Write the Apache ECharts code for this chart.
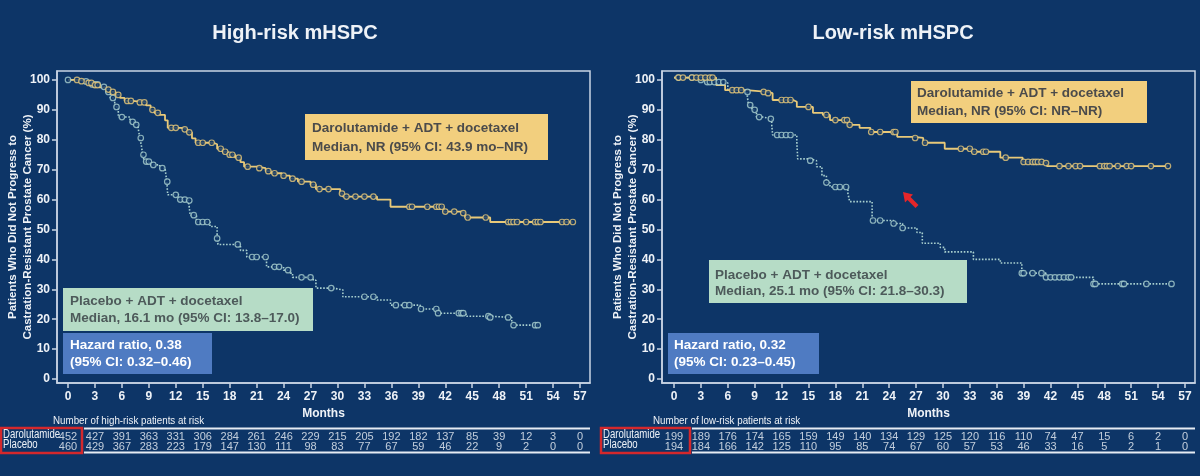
<!DOCTYPE html>
<html>
<head>
<meta charset="utf-8">
<script src="https://cdn.jsdelivr.net/npm/echarts@6/dist/echarts.min.js"></script>
<style>
  html, body { margin: 0; padding: 0; background: #0d3567; }
  #chart { width: 1200px; height: 476px; }
</style>
</head>
<body>
<div id="chart"></div>
<script>
// ---- data ----
var monthTicks = [0, 3, 6, 9, 12, 15, 18, 21, 24, 27, 30, 33, 36, 39, 42, 45, 48, 51, 54, 57];
var pctTicks = [0, 10, 20, 30, 40, 50, 60, 70, 80, 90, 100];

// high-risk, KM steps [month, % after the drop]
var hrDaroSteps = [[0,100],[1.2,99.6],[2,99],[2.8,98.3],[3.5,97.5],[4.2,96.8],[4.7,96],[5.3,95],[5.8,94],[6.3,93],
  [7.2,92.5],[8.7,91.5],[9.2,90],[9.6,89],[10.2,88.3],[10.8,86.5],[11.1,84],[12.6,83.5],[13.3,82.5],[13.8,80.5],
  [14.2,79],[16.2,78.5],[16.6,77],[17.2,76],[17.8,75],[18.6,74],[19.2,72.5],[19.6,71],[21,70.5],[22,69.5],
  [22.6,68.8],[23.8,68],[24.7,67],[25.6,66],[27,65],[27.6,63.5],[30.3,62],[30.6,61],[34.4,60],[35.9,57.6],
  [41.8,56],[43.7,55.5],[44.2,54],[47,52.5],[56.2,52.5]];
var hrPlacSteps = [[0,100],[1.5,99.5],[2.5,98.5],[3.6,97.7],[4.2,96],[4.7,94],[5.2,91],[5.6,87.6],[6.9,86],[7.5,85],
  [7.8,84],[8,80.6],[8.2,77.5],[8.3,75],[8.5,72.7],[9.1,71.6],[10.2,70.5],[10.8,70],[11,66],[11.1,61.6],
  [12.3,60],[13.4,59.7],[13.6,54.8],[14.3,52.5],[15.8,51],[16.6,47],[16.7,45],[19.2,43],[19.9,40.8],[22.1,37.5],
  [24,36.4],[24.7,35.4],[25,34],[27.3,33],[27.6,30.4],[29.5,29.8],[30.6,27.5],[34.4,26.4],[35.9,24.7],[39.2,23.4],
  [41.2,22],[44.3,21],[46.9,20.6],[49.4,18],[52.3,18]];
var hrDaroCensor = [1,1.5,2.3,2.6,3,3.3,4.5,5,5.6,6.6,7,8,8.5,9.4,10,11.5,12,13,13.5,14.5,15,16,17,17.5,18,18.3,
  19,20,21.3,22.3,23,24,25,26,27.3,28,29,30.5,31,32,33,34,38,38.3,40,41,41.3,41.6,42,43,44,44.5,46.5,
  49,49.3,49.6,50,51,52,52.3,52.6,55,55.5,56.2];
var hrPlacCensor = [0,2,2.7,3,3.3,4,4.5,5,5.4,6,7.2,7.6,8.1,8.4,8.7,9,9.5,10.5,11.05,12,12.5,13,13.5,14,14.5,15,
  15.5,16.6,18.9,20.5,21,22,23,23.5,24.5,26,27,29.3,33,34,36.5,37.5,38,39.3,41,41.2,43.5,43.8,44,
  46.8,47,49,49.6,52,52.3];

// low-risk
var lrDaroSteps = [[0,100.8],[4.7,98.3],[5.7,96.6],[8.1,96],[10.4,95.6],[11,93.3],[13.3,92.7],[13.7,91],[15.5,89],
  [16.6,88.3],[17.4,86.6],[19.4,85],[20.7,84],[21.9,82.6],[24.9,81],[26.7,80.6],[27.8,79],[30.2,77],[33.2,76],
  [36.4,74],[38.9,72.6],[41.2,72.2],[41.6,71.2],[55.1,71.2]];
var lrPlacSteps = [[0,100.8],[2.9,100],[3.5,99.3],[5.7,99],[6,96.6],[8.1,96],[8.3,91.6],[8.7,90],[9.2,87.6],[9.9,87],
  [10.9,85],[11,81.6],[13.7,79.3],[13.8,73.6],[15.2,73],[15.9,71],[16.5,68],[17,65.7],[17.4,64.2],[19.4,62],
  [19.6,59.3],[22.1,54],[22.2,53],[24.5,52],[25.5,50.5],[27.1,49],[27.7,45.4],[29.7,44],[30.2,42.5],[33.4,40],
  [36.4,38.8],[38.8,35.4],[41.5,34],[46.8,31.8],[55.5,31.8]];
var lrDaroCensor = [0.5,1,2,2.5,3,3.5,4,4.3,6.5,7,7.5,10,10.5,12,12.5,13,15,17,18,19,19.3,19.6,22,23,24.5,
  24.7,26.9,28,32,33,33.5,34.5,34.8,37,39,39.5,40,40.3,40.6,41,41.5,43,44,44.8,45.3,47.5,48,48.3,48.6,
  49.5,50.5,51,53.2,55.1];
var lrPlacCensor = [0.5,2,3,3.7,4,4.5,5,5.5,8.2,8.5,9,9.5,10.8,11.5,12,12.5,13,15.2,17,18,18.5,19.2,22.2,23,
  24.5,25.5,38.8,39,40,41,41.5,42,42.5,43,43.5,44,44.3,46.8,47,50,50.2,52.7,55.5];

// numbers at risk (months 0..57 step 3)
var hrDaroRisk = [452,427,391,363,331,306,284,261,246,229,215,205,192,182,137,85,39,12,3,0];
var hrPlacRisk = [460,429,367,283,223,179,147,130,111,98,83,77,67,59,46,22,9,2,0,0];
var lrDaroRisk = [199,189,176,174,165,159,149,140,134,129,125,120,116,110,74,47,15,6,2,0];
var lrPlacRisk = [194,184,166,142,125,110,95,85,74,67,60,57,53,46,33,16,5,2,1,0];

var titles = ['High-risk mHSPC', 'Low-risk mHSPC'];
var yName = 'Patients Who Did Not Progress to\nCastration-Resistant Prostate Cancer (%)';
var riskHeads = ['Number of high-risk patients at risk', 'Number of low-risk patients at risk'];
var armNames = ['Darolutamide', 'Placebo'];
var boxTexts = {
  hrDaro: ['Darolutamide + ADT + docetaxel', 'Median, NR (95% CI: 43.9 mo\u2013NR)'],
  hrPlac: ['Placebo + ADT + docetaxel', 'Median, 16.1 mo (95% CI: 13.8\u201317.0)'],
  hrHaz: ['Hazard ratio, 0.38', '(95% CI: 0.32\u20130.46)'],
  lrDaro: ['Darolutamide + ADT + docetaxel', 'Median, NR (95% CI: NR\u2013NR)'],
  lrPlac: ['Placebo + ADT + docetaxel', 'Median, 25.1 mo (95% CI: 21.8\u201330.3)'],
  lrHaz: ['Hazard ratio, 0.32', '(95% CI: 0.23\u20130.45)']
};

// ---- styling ----
var BG = '#0d3567';
var FRAME = '#c9d5e5';
var TXT = '#eef2f7';
var DARO = '#e8c979';
var PLAC = '#a9d0cf';
var FONT = 'Liberation Sans, Arial, sans-serif';

function stepAt(steps, t) {
    var v = steps[0][1];
    for (var i = 0; i < steps.length; i++) {
        if (steps[i][0] <= t) v = steps[i][1]; else break;
    }
    return v;
}
function censorPts(steps, times) {
    return times.map(function (t) { return [t, stepAt(steps, t)]; });
}
function riskPts(vals, row) {
    return vals.map(function (v, i) { return [monthTicks[i], row, v]; });
}

var panels = [
    {left: 57, xmin: -1.225, xmax: 58.11},
    {left: 662, xmin: -1.34, xmax: 58.12}
];

var grids = [], xAxes = [], yAxes = [], series = [];
panels.forEach(function (p, k) {
    grids.push({left: p.left, top: 71, width: 533, height: 312, show: true,
        borderColor: FRAME, borderWidth: 1.5, backgroundColor: 'transparent'});
    xAxes.push({
        type: 'value', gridIndex: k, min: p.xmin, max: p.xmax,
        name: 'Months', nameLocation: 'middle', nameGap: 21,
        nameTextStyle: {color: TXT, fontFamily: FONT, fontWeight: 'bold', fontSize: 12},
        axisLine: {show: true, onZero: false, lineStyle: {color: FRAME, width: 1.5}},
        axisTick: {show: true, length: 5, customValues: monthTicks, lineStyle: {color: FRAME, width: 1.5}},
        axisLabel: {customValues: monthTicks, color: TXT, fontFamily: FONT, fontWeight: 'bold', fontSize: 12, margin: 8},
        splitLine: {show: false}
    });
    yAxes.push({
        type: 'value', gridIndex: k, min: -1.34, max: 103,
        name: yName, nameLocation: 'middle', nameGap: 22, nameRotate: 90, nameMoveOverlap: false,
        nameTextStyle: {color: TXT, fontFamily: FONT, fontWeight: 'bold', fontSize: 11.5, lineHeight: 15},
        axisLine: {show: true, onZero: false, lineStyle: {color: FRAME, width: 1.5}},
        axisTick: {show: true, length: 5, customValues: pctTicks, lineStyle: {color: FRAME, width: 1.5}},
        axisLabel: {customValues: pctTicks, color: TXT, fontFamily: FONT, fontWeight: 'bold', fontSize: 12, margin: 7},
        splitLine: {show: false}
    });
});
// risk table grids share the month scale
panels.forEach(function (p, k) {
    grids.push({left: p.left, top: 437, width: 533, height: 10});
    xAxes.push({type: 'value', gridIndex: 2 + k, min: p.xmin, max: p.xmax, show: false});
    yAxes.push({type: 'value', gridIndex: 2 + k, min: 0, max: 1, inverse: true, show: false});
});

function kmLine(steps, k, color, dotted) {
    return {
        type: 'line', xAxisIndex: k, yAxisIndex: k, step: 'end', data: steps,
        showSymbol: false, symbol: 'none', z: 3,
        lineStyle: {color: color, width: dotted ? 1.6 : 1.8, type: dotted ? 'dotted' : 'solid'}
    };
}
function censors(steps, times, k, color) {
    return {
        type: 'scatter', xAxisIndex: k, yAxisIndex: k, data: censorPts(steps, times),
        symbol: 'circle', symbolSize: 5.5, z: 4,
        itemStyle: {color: BG, borderColor: color, borderWidth: 1.2}
    };
}
function riskRow(vals, row, k) {
    return {
        type: 'scatter', xAxisIndex: 2 + k, yAxisIndex: 2 + k, data: riskPts(vals, row),
        symbolSize: 0, silent: true,
        label: {show: true, position: 'inside', color: TXT, fontFamily: FONT, fontSize: 11,
            formatter: function (q) { return q.value[2]; }}
    };
}

series.push(kmLine(hrPlacSteps, 0, PLAC, true));
series.push(kmLine(hrDaroSteps, 0, DARO, false));
series.push(censors(hrPlacSteps, hrPlacCensor, 0, PLAC));
series.push(censors(hrDaroSteps, hrDaroCensor, 0, DARO));
series.push(kmLine(lrPlacSteps, 1, PLAC, true));
series.push(kmLine(lrDaroSteps, 1, DARO, false));
series.push(censors(lrPlacSteps, lrPlacCensor, 1, PLAC));
series.push(censors(lrDaroSteps, lrDaroCensor, 1, DARO));
series.push(riskRow(hrDaroRisk, 0, 0));
series.push(riskRow(hrPlacRisk, 1, 0));
series.push(riskRow(lrDaroRisk, 0, 1));
series.push(riskRow(lrPlacRisk, 1, 1));

function box(x, y, w, h, fill, lines, tx, ty, lh, color) {
    return {
        type: 'group', z: 10, children: [
            {type: 'rect', shape: {x: x, y: y, width: w, height: h}, style: {fill: fill}},
            {type: 'text', x: tx, y: ty, style: {text: lines[0], fill: color, font: 'bold 13.5px ' + FONT, verticalAlign: 'middle'}},
            {type: 'text', x: tx, y: ty + lh, style: {text: lines[1], fill: color, font: 'bold 13.5px ' + FONT, verticalAlign: 'middle'}}
        ]
    };
}
// risk table frame: heading, two rules, red box with arm names (condensed via scaleX)
function riskFrame(head, x0, boxR, lineR) {
    return [
        {type: 'text', x: x0 + 53, y: 421, scaleX: 0.85, style: {text: head, fill: TXT, font: '11.5px ' + FONT, verticalAlign: 'middle'}},
        {type: 'line', shape: {x1: boxR + 2, y1: 428.5, x2: lineR, y2: 428.5}, style: {stroke: '#e6ecf3', lineWidth: 2}},
        {type: 'line', shape: {x1: boxR + 2, y1: 452.5, x2: lineR, y2: 452.5}, style: {stroke: '#e6ecf3', lineWidth: 2}},
        {type: 'rect', shape: {x: x0 + 1, y: 428, width: boxR - x0 - 1, height: 25},
            style: {fill: 'none', stroke: '#d4282c', lineWidth: 2.5}},
        {type: 'text', x: x0 + 3, y: 435, scaleX: 0.8, style: {text: armNames[0], fill: TXT, font: '12px ' + FONT, verticalAlign: 'middle'}},
        {type: 'text', x: x0 + 3, y: 445, scaleX: 0.8, style: {text: armNames[1], fill: TXT, font: '12px ' + FONT, verticalAlign: 'middle'}}
    ];
}

var graphics = [
    {type: 'text', x: 295, y: 33, style: {text: titles[0], fill: TXT, font: 'bold 20px ' + FONT, align: 'center', verticalAlign: 'middle'}},
    {type: 'text', x: 893, y: 33, style: {text: titles[1], fill: TXT, font: 'bold 20px ' + FONT, align: 'center', verticalAlign: 'middle'}},
    box(305, 114, 243, 46, '#f2cf7e', boxTexts.hrDaro, 312, 128, 19, '#4b4b4b'),
    box(63, 288, 250, 43, '#b6dcc6', boxTexts.hrPlac, 70, 301, 17, '#4d5a5a'),
    box(63, 333, 149, 41, '#4f7bc2', boxTexts.hrHaz, 70, 345, 17, '#ffffff'),
    box(911, 81, 236, 42, '#f2cf7e', boxTexts.lrDaro, 917, 93, 18, '#4b4b4b'),
    box(709, 260, 258, 43, '#b6dcc6', boxTexts.lrPlac, 715, 275, 16, '#4d5a5a'),
    box(668, 333, 151, 41, '#4f7bc2', boxTexts.lrHaz, 674, 345, 17, '#ffffff'),
    // red pointer arrow on the low-risk panel
    {type: 'polygon', z: 11, shape: {points: [[903, 192], [913, 194.5], [910.5, 197], [918.5, 205], [915.5, 208], [907.5, 200], [905, 202.5]]},
        style: {fill: '#e5262a'}}
].concat(riskFrame(riskHeads[0], 0, 82, 590)).concat(riskFrame(riskHeads[1], 600, 690, 1195));

var myEcharts = echarts.init(document.getElementById('chart'));
myEcharts.setOption({
    backgroundColor: BG,
    animation: false,
    grid: grids,
    xAxis: xAxes,
    yAxis: yAxes,
    series: series,
    graphic: graphics
});
</script>
</body>
</html>
